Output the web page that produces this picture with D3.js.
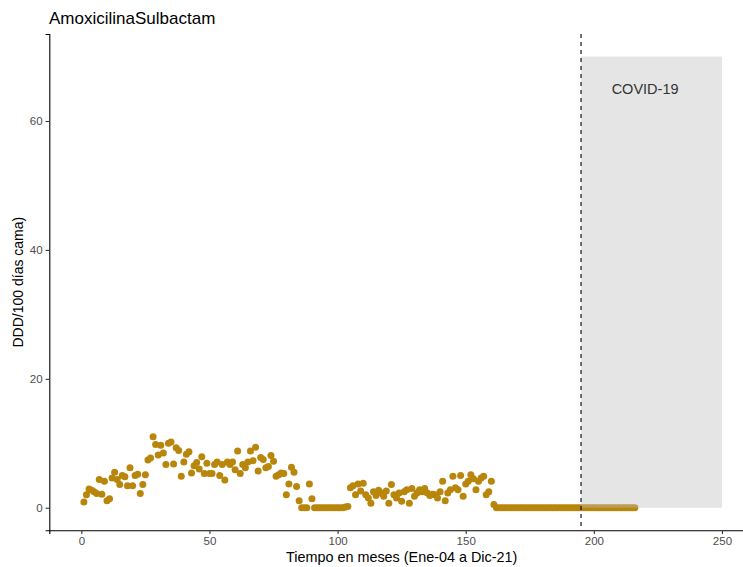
<!DOCTYPE html>
<html>
<head>
<meta charset="utf-8">
<script src="https://cdn.jsdelivr.net/npm/d3@7"></script>
<style>
  body { margin: 0; background: #fff; }
  svg { font-family: "Liberation Sans", Arial, Helvetica, sans-serif; }
</style>
</head>
<body>
<div class="svg-container"></div>
<script>
    // monthly values, Ene-04 .. Dic-21 (216 months)
    const ddd_values = [
      0.9, 2.0, 2.9, 2.7, 2.5, 2.2, 4.4, 2.1, 4.1, 1.1,
      1.4, 4.6, 5.5, 4.4, 3.6, 5.0, 4.8, 3.4, 6.2, 3.4,
      5.0, 5.2, 2.2, 3.6, 5.1, 7.4, 7.7, 11.0, 9.8, 8.2,
      9.7, 8.5, 6.7, 10.0, 10.2, 6.8, 9.3, 8.9, 4.9, 7.1,
      8.3, 8.7, 5.4, 6.5, 7.0, 6.0, 7.9, 5.3, 6.9, 5.3,
      5.3, 6.7, 7.1, 5.0, 6.7, 4.3, 7.1, 6.7, 7.1, 5.9,
      8.8, 5.3, 6.7, 6.2, 7.1, 8.8, 7.3, 9.4, 5.7, 7.8,
      7.5, 6.2, 6.4, 8.1, 7.2, 4.9, 5.1, 5.4, 5.3, 2.0,
      3.7, 6.3, 5.5, 3.3, 1.1, 0, 0, 0, 3.7, 1.4,
      0, 0, 0, 0, 0, 0, 0, 0, 0, 0,
      0, 0, 0.1, 0.2, 3.1, 3.4, 2.0, 3.7, 2.6, 3.8,
      2.0, 1.5, 0.7, 2.5, 1.9, 2.7, 2.3, 1.8, 2.6, 0.7,
      3.6, 2.0, 1.5, 2.3, 1.0, 2.5, 2.8, 0.7, 3.0, 1.8,
      2.3, 2.8, 2.5, 3.0, 2.3, 1.9, 2.1, 2.0, 1.5, 2.5,
      4.1, 1.1, 2.3, 2.8, 4.9, 3.1, 2.8, 5.0, 1.8, 3.7,
      4.1, 5.1, 4.5, 2.8, 4.1, 4.6, 4.9, 2.0, 2.5, 4.1,
      0.5, 0, 0, 0, 0, 0, 0, 0, 0, 0,
      0, 0, 0, 0, 0, 0, 0, 0, 0, 0,
      0, 0, 0, 0, 0, 0, 0, 0, 0, 0,
      0, 0, 0, 0, 0, 0, 0, 0, 0, 0,
      0, 0, 0, 0, 0, 0, 0, 0, 0, 0,
      0, 0, 0, 0, 0, 0
    ];
    const month_index = ddd_values.map((v, i) => i + 1);
    const x_ticks = [0, 50, 100, 150, 200, 250];
    const y_ticks = [0, 20, 40, 60];
    const covid_start = [195];
    const covid_box = [195, 250, 0, 70]; // xmin, xmax, ymin, ymax
    const covid_label = ["COVID-19", 220, 65];

    const chart_width = 743, chart_height = 567;

    const svg = d3.select('.svg-container').append('svg')
        .attr('width', chart_width).attr('height', chart_height);

    const x = d3.scaleLinear().domain([-12.5, 262.5]).range([49.3, 754]);
    const y = d3.scaleLinear().domain([-3.5, 73.5]).range([530.3, 34]);

    // points
    svg.append('g').selectAll('circle')
        .data(month_index)
        .enter().append('circle')
          .attr('cx', d => x(d))
          .attr('cy', (d, i) => y(ddd_values[i]))
          .attr('r', 3.5)
          .attr('fill', '#B8860B');

    // covid shaded area (drawn on top, semi transparent)
    svg.append('rect')
        .attr('x', x(covid_box[0]))
        .attr('y', y(covid_box[3]))
        .attr('width', x(covid_box[1]) - x(covid_box[0]))
        .attr('height', y(covid_box[2]) - y(covid_box[3]))
        .attr('fill', '#bebebe')
        .attr('fill-opacity', 0.4);

    svg.append('line')
        .attr('x1', x(covid_start[0])).attr('x2', x(covid_start[0]))
        .attr('y1', y.range()[1]).attr('y2', y.range()[0])
        .attr('stroke', '#000').attr('stroke-width', 1.1)
        .attr('stroke-dasharray', '4,4');

    svg.append('text')
        .attr('x', x(covid_label[1])).attr('y', y(covid_label[2]))
        .attr('text-anchor', 'middle').attr('dy', '0.35em')
        .attr('font-size', '14.5px').attr('fill', '#333')
        .text(covid_label[0]);

    // axes
    const x_axis = svg.append('g')
        .attr('transform', 'translate(0,' + y.range()[0] + ')')
        .call(d3.axisBottom(x).tickValues(x_ticks).tickSizeOuter(0).tickSize(3.7).tickPadding(3));
    const y_axis = svg.append('g')
        .attr('transform', 'translate(' + x.range()[0] + ',0)')
        .call(d3.axisLeft(y).tickValues(y_ticks).tickSizeOuter(0).tickSize(3.7).tickPadding(3));

    [x_axis, y_axis].forEach(a => {
        a.select('.domain').attr('stroke', '#000').attr('stroke-width', 1.1);
        a.selectAll('.tick line').attr('stroke', '#333').attr('stroke-width', 1.1);
        a.selectAll('.tick text').attr('fill', '#4d4d4d')
          .style('font-size', '11.5px')
          .style('font-family', '"Liberation Sans", Arial, Helvetica, sans-serif');
    });

    // titles
    svg.append('text')
        .attr('x', 49).attr('y', 24)
        .attr('font-size', '17px').attr('fill', '#000')
        .text('AmoxicilinaSulbactam');

    svg.append('text')
        .attr('x', (x.range()[0] + x.range()[1]) / 2).attr('y', 562)
        .attr('text-anchor', 'middle')
        .attr('font-size', '14.4px').attr('fill', '#000')
        .text('Tiempo en meses (Ene-04 a Dic-21)');

    svg.append('text')
        .attr('transform', 'translate(23,' + ((y.range()[0] + y.range()[1]) / 2) + ') rotate(-90)')
        .attr('text-anchor', 'middle')
        .attr('font-size', '14px').attr('fill', '#000')
        .text('DDD/100 días cama)');
</script>
</body>
</html>
